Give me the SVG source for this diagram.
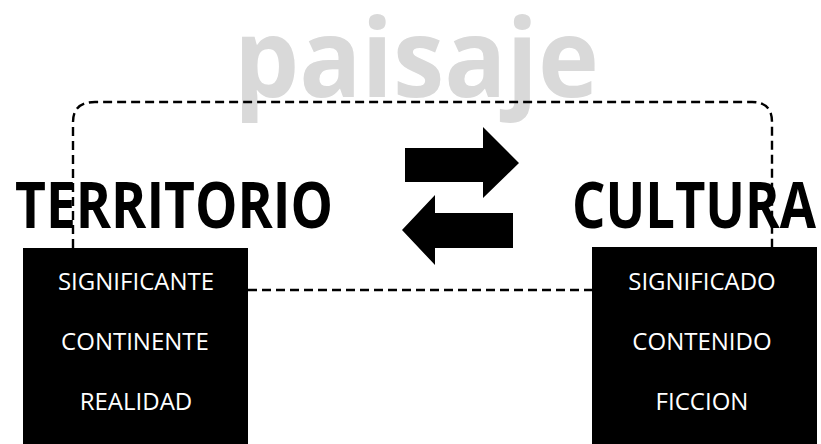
<svg xmlns="http://www.w3.org/2000/svg" width="821" height="444" viewBox="0 0 821 444">
<style>
.title{font-family:"Open Sans","Noto Sans",sans-serif;font-weight:bold;fill:#000}
.box{fill:#000}
.lbl{font-family:"Open Sans","Noto Sans",sans-serif;font-size:24px;fill:#fff;text-anchor:middle}
.dash{fill:none;stroke:#000;stroke-width:2.4;stroke-dasharray:9 5}
</style>
<rect width="821" height="444" fill="#fff"/>
<g id="paisaje">
<text x="234" y="97" font-family="Open Sans, Noto Sans, sans-serif" font-weight="bold" font-size="110" fill="#d9d9d9" textLength="365" lengthAdjust="spacingAndGlyphs">paisaje</text>
</g>
<g id="territorio">
<text class="title" x="15" y="228" font-size="64" textLength="318" lengthAdjust="spacingAndGlyphs">TERRITORIO</text>
<rect class="box" x="23" y="248" width="225" height="196"/>
<text class="lbl" x="136" y="290">SIGNIFICANTE</text>
<text class="lbl" x="135" y="350">CONTINENTE</text>
<text class="lbl" x="136" y="410">REALIDAD</text>
</g>
<g id="cultura">
<text class="title" x="572" y="228" font-size="64" textLength="244" lengthAdjust="spacingAndGlyphs">CULTURA</text>
<rect class="box" x="592" y="247" width="225" height="197"/>
<text class="lbl" x="702" y="290">SIGNIFICADO</text>
<text class="lbl" x="702" y="350">CONTENIDO</text>
<text class="lbl" x="702" y="410">FICCION</text>
</g>
<g id="connectors">
<path class="dash" d="M73,248 V122 Q73,102 95,102 H752 Q772,102 772,122 V247"/>
<path class="dash" d="M248,290 H592"/>
<polygon points="405,148 483,148 483,127 519,163 483,198 483,182 405,182" fill="#000"/>
<polygon points="513,213 435,213 435,195 402,230 435,265 435,248 513,248" fill="#000"/>
</g>
</svg>
